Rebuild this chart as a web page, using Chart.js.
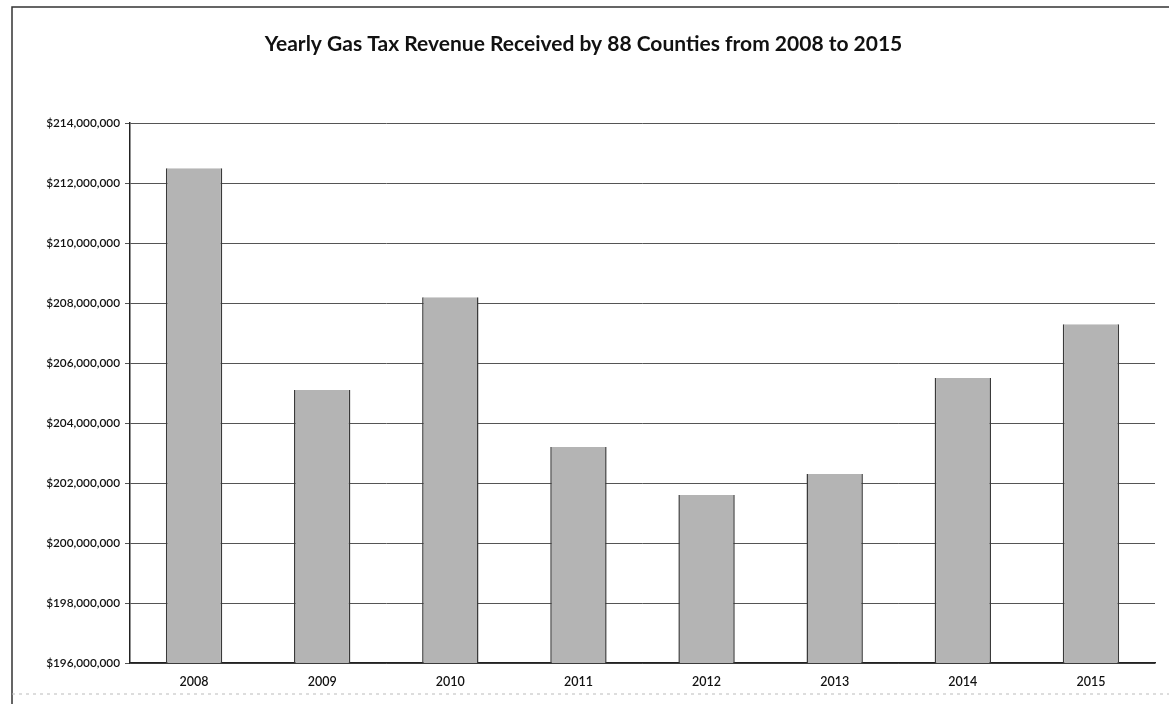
<!DOCTYPE html>
<html>
<head>
<meta charset="utf-8">
<script src="https://cdn.jsdelivr.net/npm/chart.js@4"></script>
<style>
  html, body { margin: 0; padding: 0; background: #fff; }
  #wrap { position: relative; width: 1169px; height: 704px; }
</style>
</head>
<body>
<div id="wrap"><canvas id="myChart" width="1169" height="704"></canvas></div>
<script>
// datos
const anios = ['2008', '2009', '2010', '2011', '2012', '2013', '2014', '2015'];
const ingresos = [212500000, 205100000, 208200000, 203200000, 201600000, 202300000, 205500000, 207300000];
const ejeMin = 196000000;
const ejeMax = 214000000;
const paso = 2000000;

const formatoDolar = (v) => '$' + Number(v).toLocaleString('en-US');

// marco exterior del grafico (como en la hoja de Excel escaneada)
const marco = {
    id: 'marco',
    beforeDraw(chart) {
        const ctx = chart.ctx;
        ctx.save();
        ctx.strokeStyle = '#333';
        ctx.lineWidth = 1.5;
        ctx.beginPath();
        ctx.moveTo(12, 704);
        ctx.lineTo(12, 7);
        ctx.lineTo(1169, 7);
        ctx.stroke();
        ctx.strokeStyle = '#bbb';
        ctx.lineWidth = 1;
        ctx.setLineDash([3, 4]);
        ctx.beginPath();
        ctx.moveTo(12, 694);
        ctx.lineTo(1169, 694);
        ctx.stroke();
        ctx.restore();
    }
};

const ctx = document.getElementById('myChart');

new Chart(ctx, {
    type: 'bar',
    data: {
        labels: anios,
        datasets: [{
            label: 'Gas Tax Revenue',
            data: ingresos,
            backgroundColor: '#b4b4b4',
            borderColor: '#3a3a3a',
            borderWidth: { left: 1.5, right: 1.5, top: 0, bottom: 0 },
            barPercentage: 0.88,
            categoryPercentage: 0.5
        }]
    },
    plugins: [marco],
    options: {
        responsive: false,
        animation: false,
        layout: { padding: { left: 12, right: 14, top: 8, bottom: 0 } },
        plugins: {
            legend: { display: false },
            tooltip: { enabled: false },
            title: {
                display: true,
                text: 'Yearly Gas Tax Revenue Received by 88 Counties from 2008 to 2015',
                color: '#111',
                font: { family: 'Lato', size: 21, weight: 'bold' },
                padding: { top: 24, bottom: 66 }
            }
        },
        scales: {
            x: {
                grid: { display: false },
                border: { color: '#222', width: 1.5 },
                ticks: {
                    color: '#111',
                    font: { family: 'Lato', size: 12.5, weight: '600' },
                    padding: 3
                },
                afterFit: (scale) => { scale.height = 41; }
            },
            y: {
                min: ejeMin,
                max: ejeMax,
                grid: { color: '#555', lineWidth: 1, tickLength: 5 },
                border: { color: '#222', width: 1.5 },
                ticks: {
                    stepSize: paso,
                    color: '#111',
                    font: { family: 'Lato', size: 11.8, weight: '600' },
                    padding: 5,
                    callback: (v) => formatoDolar(v)
                },
                afterFit: (scale) => { scale.width = 118; }
            }
        }
    }
});
</script>
</body>
</html>
